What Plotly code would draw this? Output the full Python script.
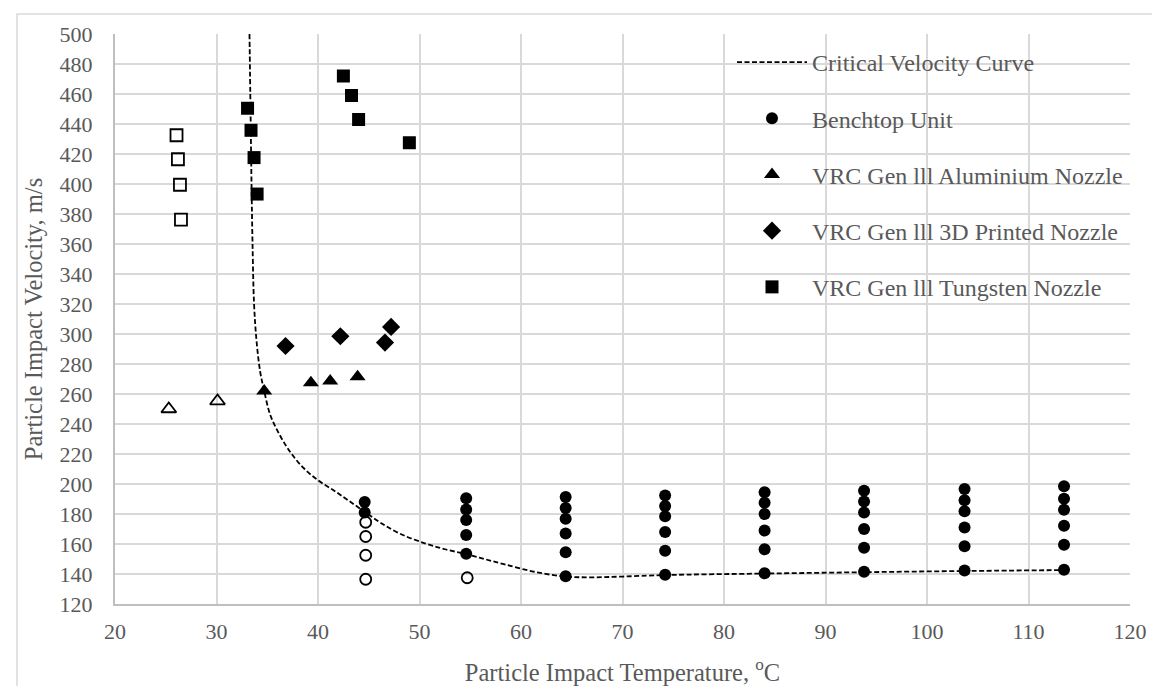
import plotly.graph_objects as go

# ---- data ----
crit_T = [33.25, 33.35, 33.45, 33.55, 33.7, 33.95, 34.3, 34.7, 35.3, 36.2, 37.3, 38.6, 40.0, 41.6,
          43.0, 44.6, 46.2, 48.2, 50.6, 52.5, 54.6, 56.5, 58.4, 61.3, 64.4, 67.0, 70.0,
          74.2, 84.0, 93.8, 103.7, 113.5]
crit_V = [500, 450, 400, 360, 320, 295, 275, 262, 246, 233, 221, 210.5, 202.5, 195.5,
          189, 181.5, 174, 166.5, 160.3, 156.5, 153.3, 149.8, 146.4, 141.5, 138.3, 137.8, 138.3,
          139.3, 140.3, 141.2, 142.0, 142.6]

bench_T = [44.6, 44.6,
           54.6, 54.6, 54.6, 54.6, 54.6,
           64.4, 64.4, 64.4, 64.4, 64.4, 64.4,
           74.2, 74.2, 74.2, 74.2, 74.2, 74.2,
           84.0, 84.0, 84.0, 84.0, 84.0, 84.0,
           93.8, 93.8, 93.8, 93.8, 93.8, 93.8,
           103.7, 103.7, 103.7, 103.7, 103.7, 103.7,
           113.5, 113.5, 113.5, 113.5, 113.5, 113.5]
bench_V = [188, 181,
           190.5, 183, 176, 166, 153.5,
           191.3, 184, 176.8, 167, 154.5, 138.5,
           192.4, 185.3, 178.5, 168, 155.5, 139.5,
           194.5, 187.5, 180, 169, 156.5, 140.5,
           195.5, 188.3, 181, 170, 157.5, 141.5,
           196.6, 189.1, 181.8, 171, 158.5, 142.4,
           198.5, 190.2, 182.9, 172.2, 159.5, 142.8]

bench_open_T = [44.7, 44.7, 44.7, 44.7, 54.7]
bench_open_V = [174.5, 165, 152.5, 136.5, 137.5]

alu_T = [34.7, 39.3, 41.2, 43.9]
alu_V = [262, 267.5, 268.6, 271.5]
alu_open_T = [25.3, 30.1]
alu_open_V = [250, 255.3]

print_T = [36.8, 42.2, 46.6, 47.2]
print_V = [292, 298.5, 294.3, 304.7]

tung_T = [33.06, 33.4, 33.7, 34.0, 42.5, 43.3, 44.0, 49.0]
tung_V = [450.5, 435.8, 417.6, 393.3, 472, 459, 443, 427.5]
tung_open_T = [26.06, 26.2, 26.4, 26.5]
tung_open_V = [432.5, 416.5, 399.5, 376.2]

FONT = "Liberation Serif"
GREY = "#595959"

fig = go.Figure()
fig.add_trace(go.Scatter(x=crit_T, y=crit_V, mode="lines", name="Critical Velocity Curve",
                         line=dict(color="black", width=1.8, dash="5px,2.5px", shape="spline", smoothing=1.0),
                         legendgroup="a"))
fig.add_trace(go.Scatter(x=bench_T, y=bench_V, mode="markers", name="Benchtop Unit",
                         marker=dict(symbol="circle", size=12, color="black"), legendgroup="b"))
fig.add_trace(go.Scatter(x=alu_T, y=alu_V, mode="markers", name="VRC Gen lll Aluminium Nozzle",
                         marker=dict(symbol="triangle-up", size=14, color="black"), legendgroup="c"))
fig.add_trace(go.Scatter(x=print_T, y=print_V, mode="markers", name="VRC Gen lll 3D Printed Nozzle",
                         marker=dict(symbol="diamond", size=14, color="black"), legendgroup="d"))
fig.add_trace(go.Scatter(x=tung_T, y=tung_V, mode="markers", name="VRC Gen lll Tungsten Nozzle",
                         marker=dict(symbol="square", size=13, color="black"), legendgroup="e"))
# open (non-deposition) markers
fig.add_trace(go.Scatter(x=bench_open_T, y=bench_open_V, mode="markers", showlegend=False,
                         marker=dict(symbol="circle-open", size=11, color="black", line=dict(width=1.8))))
fig.add_trace(go.Scatter(x=alu_open_T, y=alu_open_V, mode="markers", showlegend=False,
                         marker=dict(symbol="triangle-up-open", size=13, color="black", line=dict(width=1.8))))
fig.add_trace(go.Scatter(x=tung_open_T, y=tung_open_V, mode="markers", showlegend=False,
                         marker=dict(symbol="square-open", size=12, color="black", line=dict(width=1.8))))

L, R, T, B = 107, 38, 26, 88
PW, PH = 1160 - L - R, 686 - T - B

fig.update_layout(
    width=1160, height=686,
    margin=dict(l=L, r=R, t=T, b=B),
    paper_bgcolor="white", plot_bgcolor="white",
    font=dict(family=FONT, size=20, color=GREY),
    showlegend=True,
    legend=dict(x=(724 - L) / PW, y=1 - (32 - T) / PH, xanchor="left", yanchor="top",
                bgcolor="rgba(0,0,0,0)", borderwidth=0,
                font=dict(family=FONT, size=24, color=GREY),
                tracegroupgap=22, itemwidth=70, traceorder="grouped"),
    xaxis=dict(range=[20, 120], dtick=10, tick0=20, showgrid=True, gridcolor="#d9d9d9", gridwidth=2,
               zeroline=False, showline=True, linecolor="#bfbfbf", linewidth=2,
               ticks="", ticklabelstandoff=7,
               tickfont=dict(family=FONT, size=22, color=GREY),
               title=dict(text="Particle Impact Temperature, <sup>o</sup>C", standoff=20,
                          font=dict(family=FONT, size=24.5, color=GREY))),
    yaxis=dict(range=[120, 500], dtick=20, tick0=120, showgrid=True, gridcolor="#d9d9d9", gridwidth=2,
               zeroline=False, showline=True, linecolor="#bfbfbf", linewidth=2,
               ticks="", ticklabelstandoff=16,
               tickfont=dict(family=FONT, size=22, color=GREY),
               title=dict(text="Particle Impact Velocity, m/s", standoff=10,
                          font=dict(family=FONT, size=24.5, color=GREY))),
    shapes=[dict(type="rect", xref="paper", yref="paper",
                 x0=(9 - L) / PW, x1=(1200 - L) / PW, y0=-(720 - T - PH) / PH, y1=1 + (T - 6) / PH,
                 line=dict(color="#d9d9d9", width=1.5), fillcolor="rgba(0,0,0,0)", layer="below")],
)

fig.write_html("out.html")
